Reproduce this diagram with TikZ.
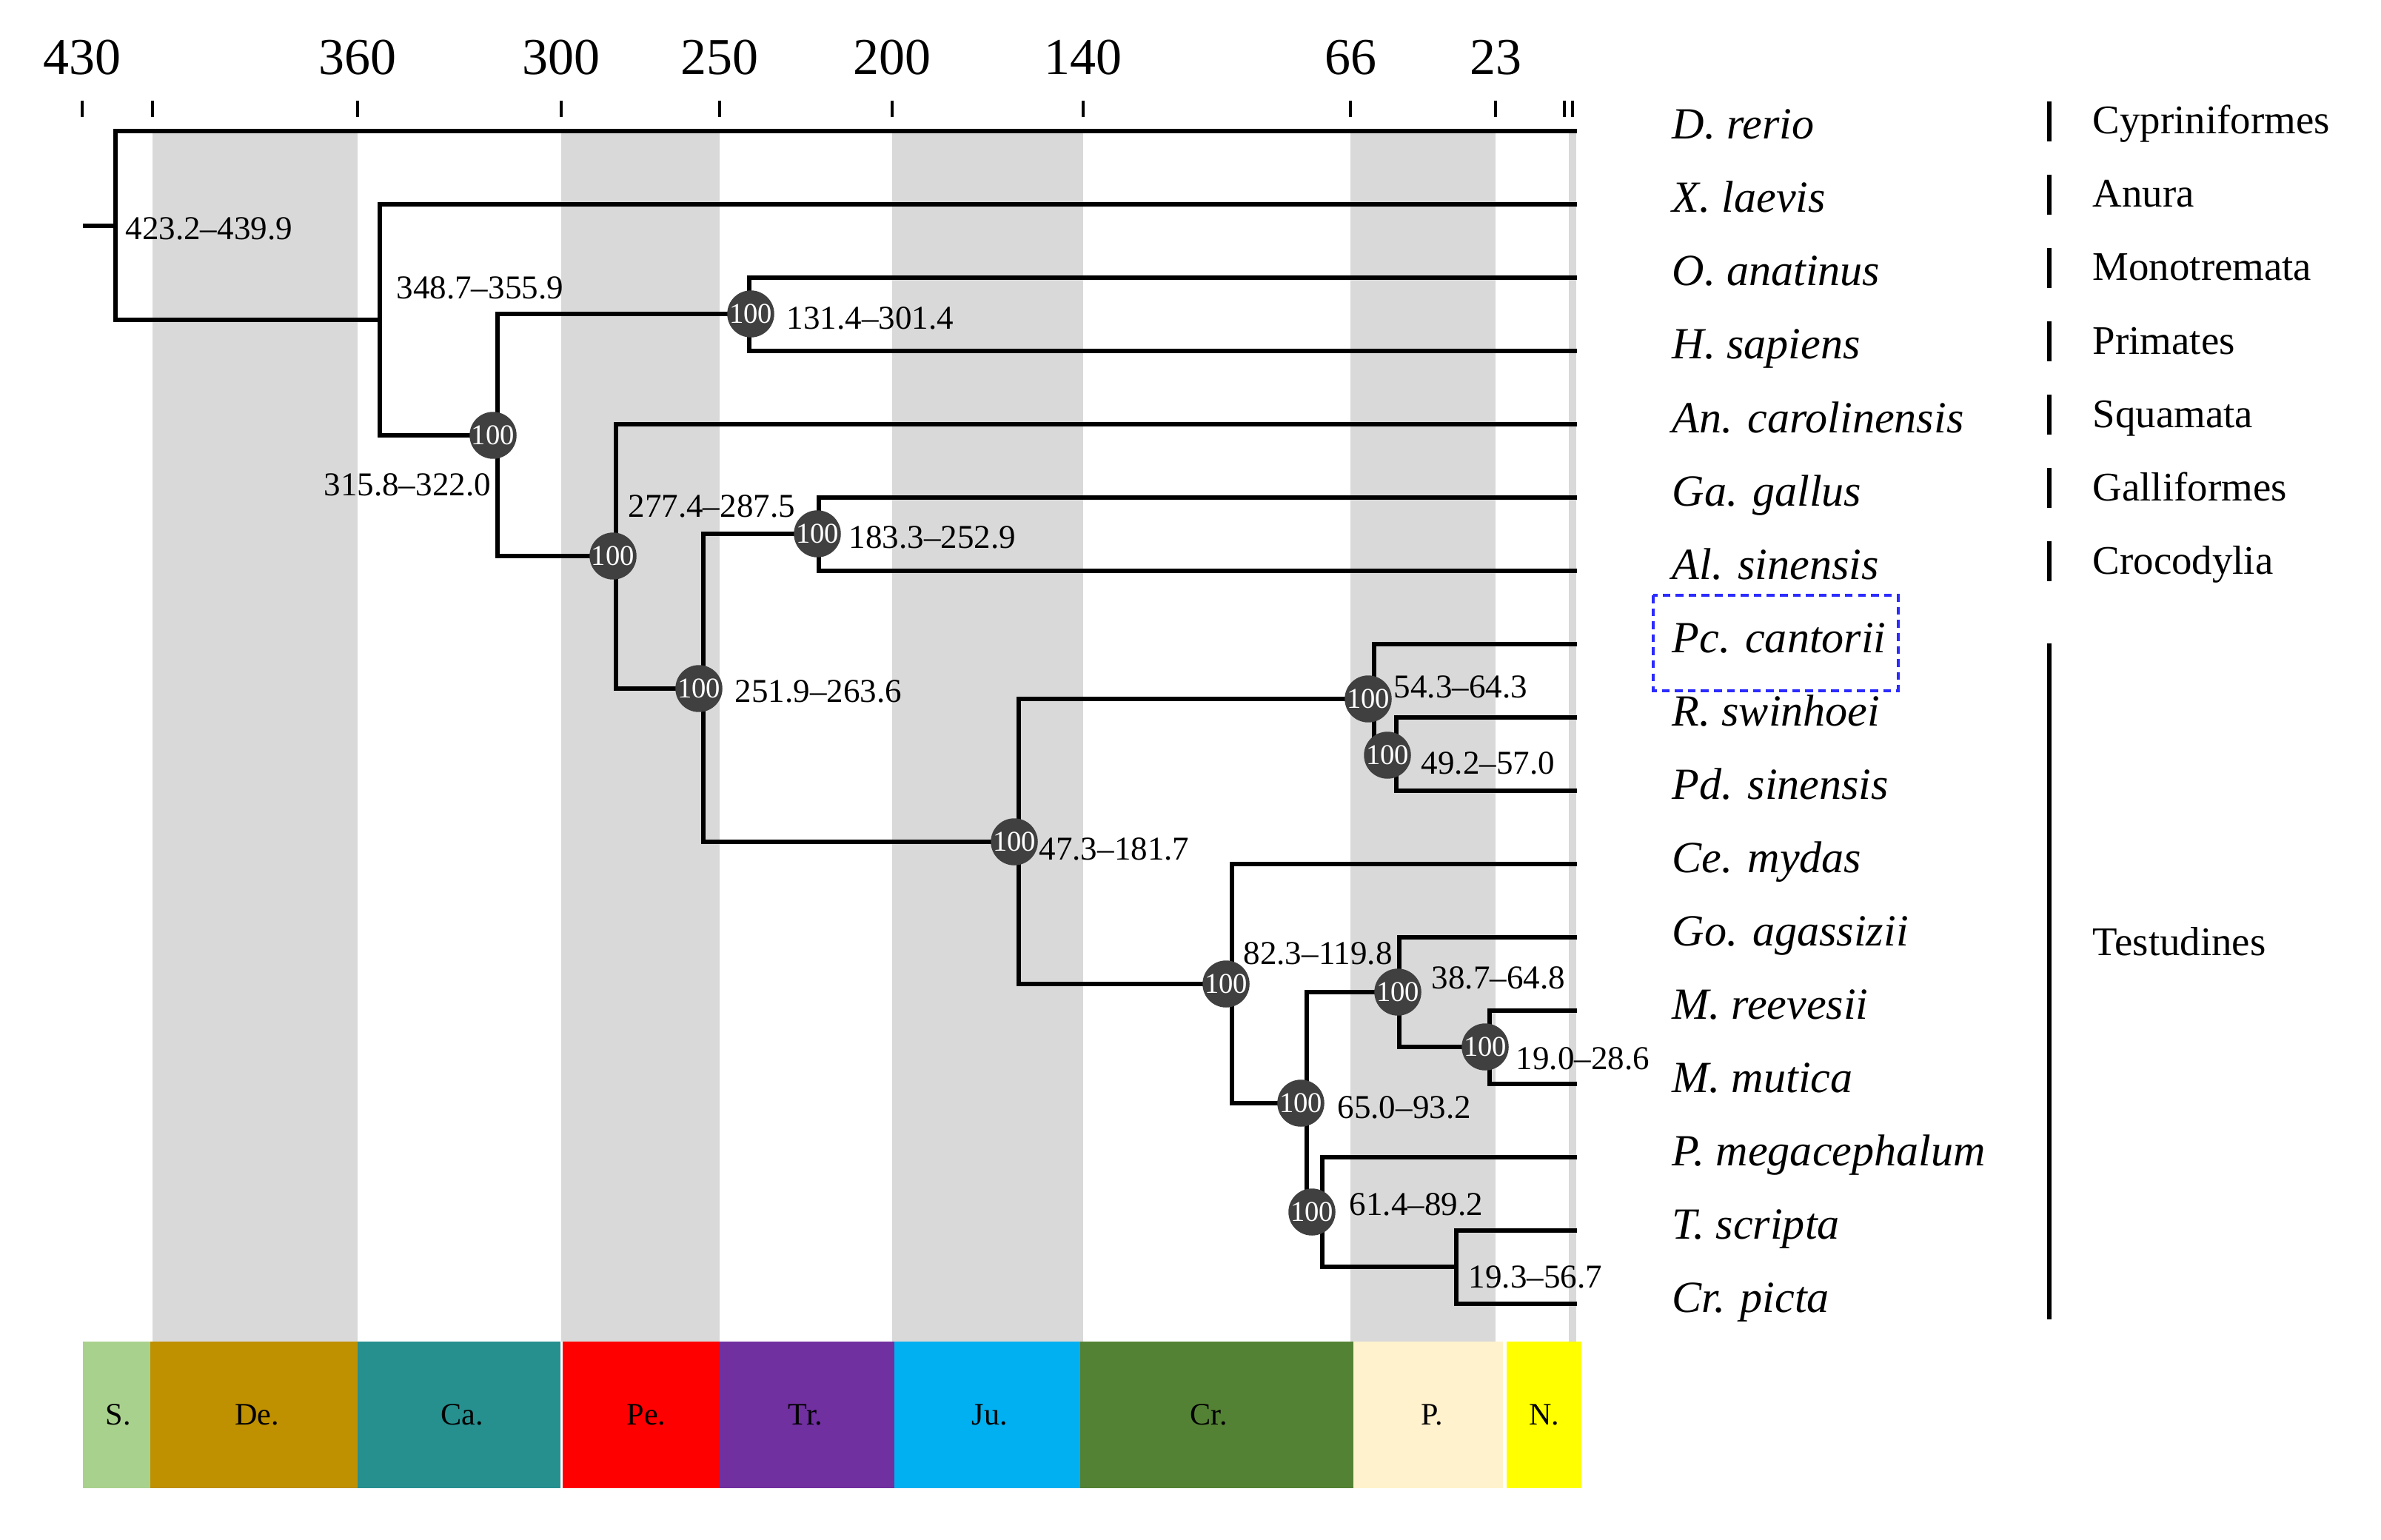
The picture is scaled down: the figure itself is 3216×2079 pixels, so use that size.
\documentclass[tikz,border=0pt]{standalone}
\usepackage{fontspec}
\setmainfont{Liberation Serif}
\definecolor{bandgray}{HTML}{D9D9D9}
\definecolor{nodegray}{HTML}{404040}
\definecolor{cS}{HTML}{A9D18E}
\definecolor{cDe}{HTML}{BF9000}
\definecolor{cCa}{HTML}{26908F}
\definecolor{cPe}{HTML}{FF0000}
\definecolor{cTr}{HTML}{7030A0}
\definecolor{cJu}{HTML}{00B0F0}
\definecolor{cCr}{HTML}{548235}
\definecolor{cP}{HTML}{FFF2CC}
\definecolor{cN}{HTML}{FFFF00}
\definecolor{boxblue}{HTML}{2B2BFF}
\begin{document}
\begin{tikzpicture}[x=0.01cm,y=-0.01cm,
  branch/.style={line width=1.55pt, line join=miter},
  tickmark/.style={line width=1.2pt},
  bs/.style={circle, fill=nodegray, minimum size=0.62cm, inner sep=0pt, text=white, font=\fontsize{11}{11}\selectfont},
  age/.style={anchor=west, inner sep=0pt, font=\fontsize{12.8}{14}\selectfont},
  taxon/.style={anchor=base west, inner sep=0pt, font=\fontsize{17.1}{20}\selectfont\itshape},
  order/.style={anchor=base west, inner sep=0pt, font=\fontsize{15.6}{18}\selectfont},
  ticklab/.style={inner sep=0pt, font=\fontsize{19.9}{22}\selectfont},
  perlab/.style={inner sep=0pt, font=\fontsize{12}{14}\selectfont},
  orderbar/.style={line width=1.8pt},
]
\useasboundingbox (0,0) rectangle (3216,2079);

% grey period bands
\fill[bandgray] (206,177) rectangle (483,1812);
\fill[bandgray] (758,177) rectangle (972,1812);
\fill[bandgray] (1205,177) rectangle (1463,1812);
\fill[bandgray] (1824,177) rectangle (2020,1812);
\fill[bandgray] (2119,177) rectangle (2129,1812);

% axis ticks and labels
\foreach \x/\lab in {111/430,483/360,758/300,972/250,1205/200,1463/140,1824/66,2020/23}{
  \draw[tickmark] (\x,136) -- (\x,158);
  \node[ticklab] (ax\lab) at (\x,78) {\lab};
}
\draw[tickmark] (206,136) -- (206,158);
\draw[tickmark] (2113,136) -- (2113,158);
\draw[tickmark] (2124,136) -- (2124,158);

% tips
\foreach \i/\y in {0/177,1/276,2/375,3/474,4/573,5/672,6/771,7/870,8/969,9/1068,10/1167,11/1266,12/1365,13/1464,14/1563,15/1662,16/1761}{
  \coordinate (t\i) at (2130,\y);
}

% internal nodes
\coordinate (rootstub) at (112,305);
\coordinate (nR) at (156,305);
\coordinate (nA) at (513,432);
\coordinate (nB) at (672,588);
\coordinate (nM) at (1012,424);
\coordinate (nC) at (832,751);
\coordinate (nD) at (950,930);
\coordinate (nE) at (1106,721);
\coordinate (nT) at (1376,1137);
\coordinate (nF) at (1856,944);
\coordinate (nFF) at (1886,1018);
\coordinate (nG) at (1664,1329);
\coordinate (nH) at (1765,1490);
\coordinate (nI) at (1890,1340);
\coordinate (nJ) at (2012,1414);
\coordinate (nK) at (1786,1637);
\coordinate (nL) at (1967,1711);

% branches
\draw[branch] (rootstub) -- (nR);
\draw[branch] (nR) |- (t0);
\draw[branch] (nR) |- (nA);
\draw[branch] (nA) |- (t1);
\draw[branch] (nA) |- (nB);
\draw[branch] (nB) |- (nM);
\draw[branch] (nB) |- (nC);
\draw[branch] (nM) |- (t2);
\draw[branch] (nM) |- (t3);
\draw[branch] (nC) |- (t4);
\draw[branch] (nC) |- (nD);
\draw[branch] (nD) |- (nE);
\draw[branch] (nD) |- (nT);
\draw[branch] (nE) |- (t5);
\draw[branch] (nE) |- (t6);
\draw[branch] (nT) |- (nF);
\draw[branch] (nT) |- (nG);
\draw[branch] (nF) |- (t7);
\draw[branch] (nF) |- (nFF);
\draw[branch] (nFF) |- (t8);
\draw[branch] (nFF) |- (t9);
\draw[branch] (nG) |- (t10);
\draw[branch] (nG) |- (nH);
\draw[branch] (nH) |- (nI);
\draw[branch] (nH) |- (nK);
\draw[branch] (nI) |- (t11);
\draw[branch] (nI) |- (nJ);
\draw[branch] (nJ) |- (t12);
\draw[branch] (nJ) |- (t13);
\draw[branch] (nK) |- (t14);
\draw[branch] (nK) |- (nL);
\draw[branch] (nL) |- (t15);
\draw[branch] (nL) |- (t16);

% support circles
\node[bs] (cB) at (666,588) {100};
\node[bs] (cM) at (1014,424) {100};
\node[bs] (cC) at (828,751) {100};
\node[bs] (cD) at (944,930) {100};
\node[bs] (cE) at (1104,721) {100};
\node[bs] (cT) at (1370,1137) {100};
\node[bs] (cF) at (1848,944) {100};
\node[bs] (cFF) at (1874,1020) {100};
\node[bs] (cG) at (1656,1329) {100};
\node[bs] (cH) at (1757,1490) {100};
\node[bs] (cI) at (1888,1340) {100};
\node[bs] (cJ) at (2006,1414) {100};
\node[bs] (cK) at (1772,1637) {100};

% age labels
\node[age] (lR) at (169,309) {423.2–439.9};
\node[age] (lA) at (535,389) {348.7–355.9};
\node[age] (lB) at (437,655) {315.8–322.0};
\node[age] (lM) at (1062,430) {131.4–301.4};
\node[age] (lC) at (848,684) {277.4–287.5};
\node[age] (lD) at (992,934) {251.9–263.6};
\node[age] (lE) at (1146,726) {183.3–252.9};
\node[age] (lT) at (1403,1147) {47.3–181.7};
\node[age] (lF) at (1882,928) {54.3–64.3};
\node[age] (lFF) at (1919,1031) {49.2–57.0};
\node[age] (lG) at (1679,1288) {82.3–119.8};
\node[age] (lH) at (1806,1496) {65.0–93.2};
\node[age] (lI) at (1933,1321) {38.7–64.8};
\node[age] (lJ) at (2047,1430) {19.0–28.6};
\node[age] (lK) at (1822,1627) {61.4–89.2};
\node[age] (lL) at (1983,1725) {19.3–56.7};

% taxa
\foreach \i/\y/\name in {0/177/D. rerio,1/276/X. laevis,2/375/O. anatinus,3/474/H. sapiens,4/573/An. carolinensis,5/672/Ga. gallus,6/771/Al. sinensis,7/870/Pc. cantorii,8/969/R. swinhoei,9/1068/Pd. sinensis,10/1167/Ce. mydas,11/1266/Go. agassizii,12/1365/M. reevesii,13/1464/M. mutica,14/1563/P. megacephalum,15/1662/T. scripta,16/1761/Cr. picta}{
  \node[taxon] (sp\i) at (2258,\y+11) {\name};
}

% highlight box
\coordinate (boxA) at (2233,804);
\coordinate (boxB) at (2564,933);
\draw[boxblue, line width=0.9pt, dash pattern=on 3pt off 2pt] (boxA) rectangle (boxB);

% orders
\foreach \i/\y/\name in {0/177/Cypriniformes,1/276/Anura,2/375/Monotremata,3/474/Primates,4/573/Squamata,5/672/Galliformes,6/771/Crocodylia}{
  \draw[orderbar] (2768,\y-40) -- (2768,\y+14);
  \node[order] (or\i) at (2826,\y+4) {\name};
}
\draw[orderbar] (2768,869) -- (2768,1782);
\node[order] (orT) at (2826,1290) {Testudines};

% period bar
\fill[cS] (112,1812) rectangle (203,2010);
\fill[cDe] (203,1812) rectangle (483,2010);
\fill[cCa] (483,1812) rectangle (757,2010);
\fill[cPe] (760,1812) rectangle (972,2010);
\fill[cTr] (972,1812) rectangle (1208,2010);
\fill[cJu] (1208,1812) rectangle (1459,2010);
\fill[cCr] (1459,1812) rectangle (1828,2010);
\fill[cP] (1828,1812) rectangle (2030,2010);
\fill[cN] (2035,1812) rectangle (2136,2010);
\node[perlab] (pS) at (160,1911) {S.};
\node[perlab] (pDe) at (347,1911) {De.};
\node[perlab] (pCa) at (624,1911) {Ca.};
\node[perlab] (pPe) at (873,1911) {Pe.};
\node[perlab] (pTr) at (1088,1911) {Tr.};
\node[perlab] (pJu) at (1337,1911) {Ju.};
\node[perlab] (pCr) at (1633,1911) {Cr.};
\node[perlab] (pP) at (1934,1911) {P.};
\node[perlab] (pN) at (2086,1911) {N.};
\end{tikzpicture}
\end{document}
